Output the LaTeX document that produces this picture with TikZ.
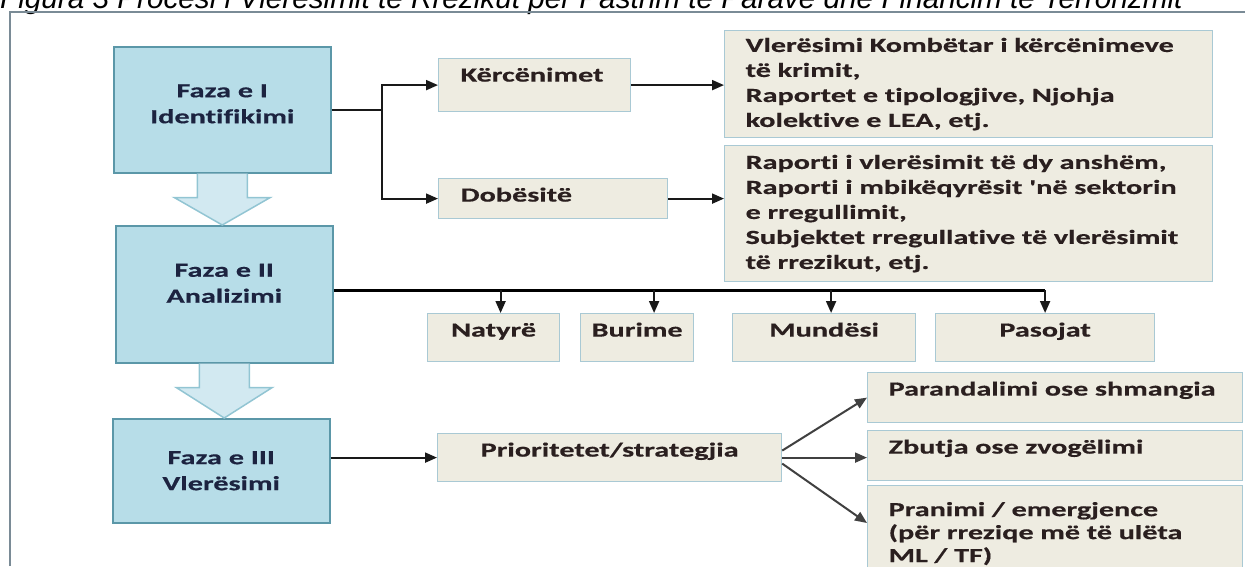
\documentclass[tikz,border=0pt]{standalone}
\usepackage{fontspec}
\setmainfont{Carlito}
\newfontfamily\boxfont[FakeStretch=1.51, FakeBold=0.5, Ligatures=NoCommon]{Carlito}
\newfontfamily\titlefont{Liberation Sans}
\usetikzlibrary{arrows.meta,calc}

\definecolor{faseblue}{HTML}{B7DDE8}
\definecolor{faseline}{HTML}{5B97A8}
\definecolor{notefill}{HTML}{EEECE1}
\definecolor{noteline}{HTML}{A9C9D4}
\definecolor{arrowfill}{HTML}{D2E9F1}
\definecolor{arrowline}{HTML}{92C5D3}
\definecolor{framegray}{HTML}{7A8B96}
\definecolor{fasetext}{HTML}{1C2340}
\definecolor{notetext}{HTML}{2A1F1F}

\tikzset{
  fase/.style={draw=faseline, fill=faseblue, line width=1.5pt, anchor=north west,
    minimum width=217pt, align=center, text=fasetext, inner sep=0pt,
    font=\boxfont\bfseries\fontsize{20}{26}\selectfont},
  note/.style={draw=noteline, fill=notefill, line width=1.2pt, anchor=north west,
    text=notetext, inner ysep=9pt, font=\boxfont\bfseries\fontsize{20}{25}\selectfont},
  oneline/.style={text height=14pt, text depth=#1},
  link/.style={line width=2pt, draw=black!90, -{Triangle[length=12pt,width=10pt]}},
  blockarrow/.style={draw=arrowline, fill=arrowfill, line width=1.5pt, line join=miter}
}

\begin{document}
\begin{tikzpicture}[x=1pt,y=-1pt]
  \useasboundingbox (0,0) rectangle (1245,566);

  % caption and frame
  \node[anchor=base west, inner sep=0pt, font=\titlefont\itshape\fontsize{29.7}{31}\selectfont] (title) at (0,8)
    {Figura 3 Procesi i Vlerësimit të Rrezikut për Pastrim të Parave dhe Financim të Terrorizmit};
  \draw[framegray, line width=2pt] (10,566) -- (10,12) -- (1245,12);

  % phases
  \node[fase, minimum height=126pt] (f1) at (113,46) {Faza e I\\Identifikimi\\[-14pt]\mbox{}};
  \node[fase, minimum height=137pt] (f2) at (115,225) {Faza e II\\Analizimi\\[-4pt]\mbox{}};
  \node[fase, minimum height=104pt] (f3) at (112,418) {Faza e III\\Vlerësimi};

  \foreach \a/\b in {f1/f2, f2/f3}
    \draw[blockarrow] ($(\a.south)+(-25,0)$) -- ++(0,24) -- ++(-23,0) -- (\a.south |- \b.north)
      -- ($(\a.south)+(48,24)$) -- ++(-23,0) -- ($(\a.south)+(25,0)$);

  % identification
  \node[note, oneline=21pt, text width=148pt, inner xsep=22pt, align=left] (kerc) at (438,58) {Kërcënimet};
  \node[note, oneline=8pt, text width=185pt, inner xsep=22pt, align=left] (dob) at (438,178) {Dobësitë};
  \node[note, text width=446pt, inner xsep=21pt, inner ysep=0pt, minimum height=107pt, align=left] (krim) at (724,30)
    {Vlerësimi Kombëtar i kërcënimeve\\të krimit,\\Raportet e tipologjive, Njohja\\kolektive e LEA, etj.};
  \node[note, text width=446pt, inner xsep=21pt, inner ysep=0pt, minimum height=136pt, align=left] (rap) at (724,145)
    {Raporti i vlerësimit të dy anshëm,\\Raporti i mbikëqyrësit 'në sektorin\\e rregullimit,\\Subjektet rregullative të vlerësimit\\të rrezikut, etj.};

  \draw[link] (f1.east) -- ++(50,0) coordinate (split) |- (kerc.west);
  \draw[link] (split) |- (dob.west);
  \draw[link] (kerc.east) -- (kerc.east -| krim.west);
  \draw[link] (dob.east) -- (dob.east -| rap.west);

  % analysis
  \node[note, oneline=16pt, minimum width=132pt] (nat) at (427,313) {Natyrë};
  \node[note, oneline=16pt, minimum width=113pt] (bur) at (580,313) {Burime};
  \node[note, oneline=16pt, minimum width=183pt] (mun) at (732,313) {Mundësi};
  \node[note, oneline=16pt, minimum width=219pt] (pas) at (935,313) {Pasojat};

  \coordinate (f2out) at ($(f2.east)+(0,-4)$);
  \draw[line width=2.8pt] (f2out) -- (f2out -| pas.north);
  \foreach \b/\dx in {nat/7, bur/17, mun/7, pas/0}
    \draw[link] ($(f2out -| \b.north)+(\dx,0)$) -- ($(\b.north)+(\dx,0)$);

  % evaluation
  \node[note, oneline=16pt, minimum width=344pt] (prio) at (437,433) {Prioritetet/strategjia};
  \node[note, oneline=18pt, text width=333pt, inner xsep=21pt, align=left] (shm) at (867,372) {Parandalimi ose shmangia};
  \node[note, oneline=18pt, text width=333pt, inner xsep=21pt, align=left] (zbu) at (867,430) {Zbutja ose zvogëlimi};
  \node[note, text width=333pt, inner xsep=21pt, inner ysep=10pt, minimum height=96pt, align=left,
    font=\boxfont\bfseries\fontsize{20}{23}\selectfont] (pra) at (867,485)
    {Pranimi / emergjence\\(për rreziqe më të ulëta\\ML / TF)};

  \draw[link] (f3.east |- prio.west) -- (prio.west);
  \draw[link, draw=black!75] ($(prio.east)+(0,-7)$) -- (shm.west);
  \draw[link, draw=black!75] (prio.east) -- (prio.east -| zbu.west);
  \draw[link, draw=black!75] ($(prio.east)+(0,6)$) -- ($(pra.north west)+(0,38)$);
\end{tikzpicture}
\end{document}
